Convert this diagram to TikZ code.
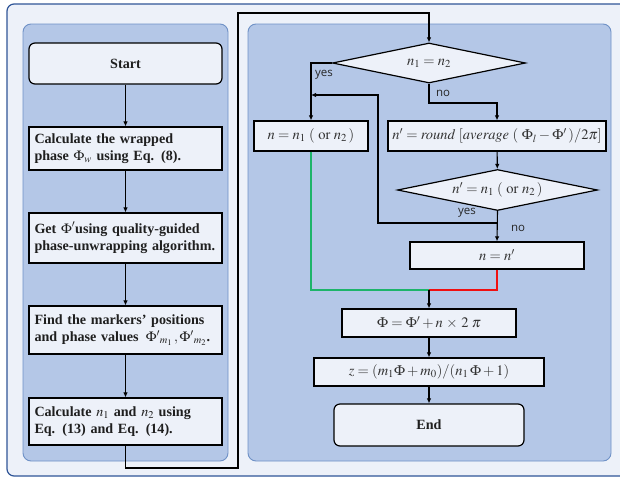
\documentclass[tikz,border=0pt]{standalone}
\usepackage{mathptmx}
\usepackage{fontspec}
\setmainfont{Liberation Serif}
\newfontfamily\lblfont{Open Sans}
\usetikzlibrary{shapes.geometric,arrows.meta}
\definecolor{outerfill}{HTML}{EDF1F9}
\definecolor{outerdraw}{HTML}{2F5597}
\definecolor{panelfill}{HTML}{B4C7E7}
\definecolor{paneldraw}{HTML}{6F91C6}
\definecolor{boxfill}{HTML}{EDF1F9}
\definecolor{mathgray}{HTML}{333333}
\definecolor{greenline}{HTML}{1DB46A}
\definecolor{redline}{HTML}{F01010}
\begin{document}
\begin{tikzpicture}[x=1pt,y=-1pt,
  lbox/.style={draw=black,line width=1.2pt,fill=boxfill,minimum width=193pt,text width=182pt,align=left,inner sep=0pt,font=\fontsize{14.1}{17.5}\selectfont\bfseries,text=black!88},
  rbox/.style={draw=black,line width=1.2pt,fill=boxfill,inner sep=0pt,font=\fontsize{14.5}{16}\selectfont,text=mathgray},
  dia/.style={diamond,draw=black,line width=1.2pt,fill=boxfill,inner sep=0pt,font=\fontsize{14.5}{16}\selectfont,text=mathgray},
  conn/.style={line width=1.1pt,draw=black},
  arr/.style={conn,-{Latex[length=5pt,width=4.5pt]}},
  lbl/.style={font=\lblfont\fontsize{11.5}{13}\selectfont,text=black!85,inner sep=0pt}
]
\useasboundingbox (0,0) rectangle (620,479);
% frames
\draw[fill=outerfill,draw=outerdraw,line width=1.2pt,rounded corners=7pt] (7,4) rectangle (640,476);
\draw[fill=panelfill,draw=paneldraw,line width=0.9pt,rounded corners=8pt] (23,24) rectangle (228,461);
\draw[fill=panelfill,draw=paneldraw,line width=0.9pt,rounded corners=8pt] (248,24) rectangle (611,461);
% left column
\node[lbox,rounded corners=6pt,minimum height=41pt,align=center] (s) at (125.5,63.5) {Start};
\node[lbox,minimum height=43pt] (l2) at (125.5,148.5) {Calculate the wrapped\\ phase $\Phi_w$ using Eq. (8).};
\node[lbox,minimum height=50pt] (l3) at (125.5,238) {Get $\Phi'$using quality-guided\\ phase-unwrapping algorithm.};
\node[lbox,minimum height=48pt] (l4) at (125.5,330) {Find the markers’ positions\\ and phase values \,${\Phi'}_{m_1}\,,{\Phi'}_{m_2}$.};
\node[lbox,minimum height=47pt] (l5) at (125.5,421.5) {Calculate $n_1$ and $n_2$ using\\ Eq. (13) and Eq. (14).};
\draw[arr] (s) -- (l2);
\draw[arr] (l2) -- (l3);
\draw[arr] (l3) -- (l4);
\draw[arr] (l4) -- (l5);
% right column
\node[dia,aspect=4.8,minimum width=193pt,minimum height=40pt] (d1) at (429,63) {$n_1=n_2$};
\node[rbox,minimum width=114pt,minimum height=30pt] (b1) at (311,136) {$n=n_1\;(\ \mathrm{or}\ n_2\,)$};
\node[rbox,minimum width=218pt,minimum height=30pt] (b2) at (497,136) {$n'=\mathit{round}\ [\mathit{average}\ (\ \Phi_l-\Phi'\,)/2\pi]$};
\node[dia,aspect=4.9,minimum width=200pt,minimum height=41pt] (d2) at (497.5,190) {$n'=n_1\;(\ \mathrm{or}\ n_2\,)$};
\node[rbox,minimum width=174pt,minimum height=27pt] (b3) at (497,255.5) {$n=n'$};
\node[rbox,minimum width=174pt,minimum height=28pt] (b4) at (429,323) {$\Phi=\Phi'+n\,\times\,2\;\pi$};
\node[rbox,minimum width=230pt,minimum height=28pt] (b5) at (429,372) {$z=(m_1\Phi+m_0)/(n_1\,\Phi+1)$};
\node[rbox,rounded corners=6pt,minimum width=190pt,minimum height=42pt,font=\fontsize{14.1}{16}\selectfont\bfseries,text=black!88] (e) at (429,425) {End};
% connectors
\coordinate (c1) at (238,468);
\coordinate (c2) at (238,13);
\draw[arr] (l5.south) |- (c1) -- (c2) -| (d1.north);
\draw[arr] (d1.west) -| (b1.north);
\coordinate (m1) at (429,103);
\draw[arr] (d1.south) -- (m1) -| (b2.north);
\draw[arr] (b2) -- (d2);
\draw[arr] (d2.south) -- (b3.north);
\coordinate (j1) at (497,223);
\coordinate (j2) at (378,95);
\coordinate (j3) at (311,95);
\draw[arr] (j1) -| (j2) -- (j3);
\coordinate (m2) at (429,290);
\draw[line width=1.1pt,draw=greenline] (b1.south) |- (m2);
\draw[line width=1.1pt,draw=redline] (b3.south) |- (m2);
\draw[arr] (m2) -- (b4.north);
\draw[arr] (b4) -- (b5);
\draw[arr] (b5) -- (e);
% labels
\node[lbl] (y1) at (324,75) {yes};
\node[lbl] (n1) at (443,93) {no};
\node[lbl] (y2) at (467,213) {yes};
\node[lbl] (n2) at (518,228) {no};
\end{tikzpicture}
\end{document}
